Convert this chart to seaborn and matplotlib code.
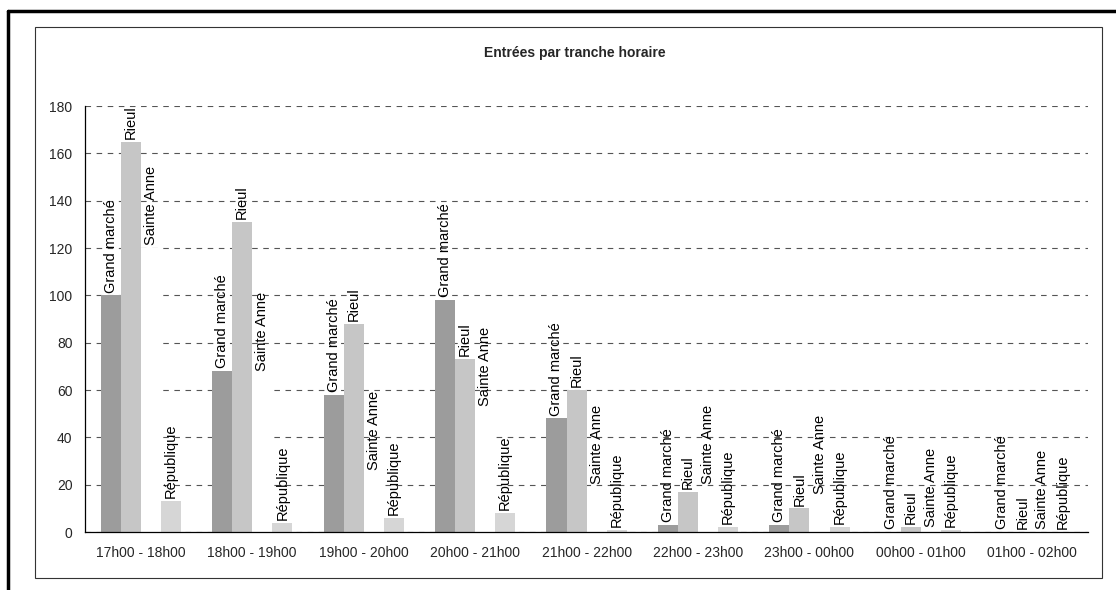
"""
Entrées par tranche horaire: grouped bars per site, series-name labels on top.
"""

import matplotlib

matplotlib.use("Agg")
import matplotlib.pyplot as plt
import matplotlib.ticker as mticker
import numpy as np
import pandas as pd
import seaborn as sns
from matplotlib.lines import Line2D
from matplotlib.patches import Rectangle

SLOTS = [
    "17h00 - 18h00", "18h00 - 19h00", "19h00 - 20h00", "20h00 - 21h00",
    "21h00 - 22h00", "22h00 - 23h00", "23h00 - 00h00", "00h00 - 01h00",
    "01h00 - 02h00",
]
SITES = ["Grand marché", "Rieul", "Sainte Anne", "République"]

GRAND_MARCHE = [100, 68, 58, 98, 48, 3, 3, 0, 0]
RIEUL = [165, 131, 88, 73, 60, 17, 10, 2, 0]
SAINTE_ANNE = [120, 67, 25, 52, 19, 19, 15, 1, 0]
REPUBLIQUE = [13, 4, 6, 8, 1, 2, 2, 1, 0]

YTICKS = [0, 20, 40, 60, 80, 100, 120, 140, 160, 180]

# scanned greys (Sainte Anne came out blank on the original)
COLORS = ["#9c9c9c", "#c6c6c6", "#ffffff", "#d6d6d6"]

sns.set_style("white")
plt.rcParams["font.family"] = ["Liberation Sans", "DejaVu Sans"]

df = pd.DataFrame({
    "slot": np.repeat(SLOTS, len(SITES)),
    "site": SITES * len(SLOTS),
    "value": np.column_stack([GRAND_MARCHE, RIEUL, SAINTE_ANNE, REPUBLIQUE]).ravel(),
})

fig = plt.figure(figsize=(11.16, 5.90), dpi=100)
ax = fig.add_axes([0.0762, 0.0983, 0.8988, 0.7220])

sns.barplot(
    data=df, x="slot", y="value", hue="site", order=SLOTS, hue_order=SITES,
    palette=COLORS, width=0.72, linewidth=0, errorbar=None, ax=ax, legend=False,
    zorder=2,
)

# series name above each bar
for container, site in zip(ax.containers, SITES):
    for bar in container:
        ax.annotate(
            site, (bar.get_x() + bar.get_width() / 2, bar.get_height()),
            xytext=(0, 2), textcoords="offset points", rotation=90,
            ha="center", va="bottom", fontsize=10.5, color="black", zorder=3,
        )

ax.set_xlim(-0.5, len(SLOTS) - 0.5)
ax.set_ylim(0, 180)
ax.set_yticks(YTICKS)
ax.yaxis.grid(True, color="#555555", linestyle=(0, (5, 5)), linewidth=0.8, zorder=0)
ax.xaxis.grid(False)
ax.set_axisbelow(True)

ax.set_xlabel("")
ax.set_ylabel("")
ax.tick_params(axis="x", which="major", length=0, labelsize=10, pad=10)
ax.xaxis.set_minor_locator(mticker.FixedLocator(np.arange(0.5, len(SLOTS) - 1, 1)))
ax.tick_params(axis="x", which="minor", length=4, direction="out", width=0.8)
ax.tick_params(axis="y", length=5, direction="out", width=0.8, labelsize=10, pad=4)

for side in ["top", "right"]:
    ax.spines[side].set_visible(False)
for side in ["left", "bottom"]:
    ax.spines[side].set_color("black")
    ax.spines[side].set_linewidth(0.9)

fig.text(0.515, 0.910, "Entrées par tranche horaire", ha="center", va="center",
         fontsize=10, fontweight="bold")

# chart-area frame and the scanned page border
fig.add_artist(Rectangle((35 / 1116, 1 - 578 / 590), (1102 - 35) / 1116, (578 - 27) / 590,
                         transform=fig.transFigure, fill=False, edgecolor="#333333",
                         linewidth=0.8))
fig.add_artist(Line2D([8 / 1116, 1.0], [1 - 11 / 590, 1 - 11 / 590],
                      transform=fig.transFigure, color="black", linewidth=2.5))
fig.add_artist(Line2D([8 / 1116, 8 / 1116], [0.0, 1 - 11 / 590],
                      transform=fig.transFigure, color="black", linewidth=2.5))

fig.savefig("out.png", dpi=100)
plt.close(fig)
